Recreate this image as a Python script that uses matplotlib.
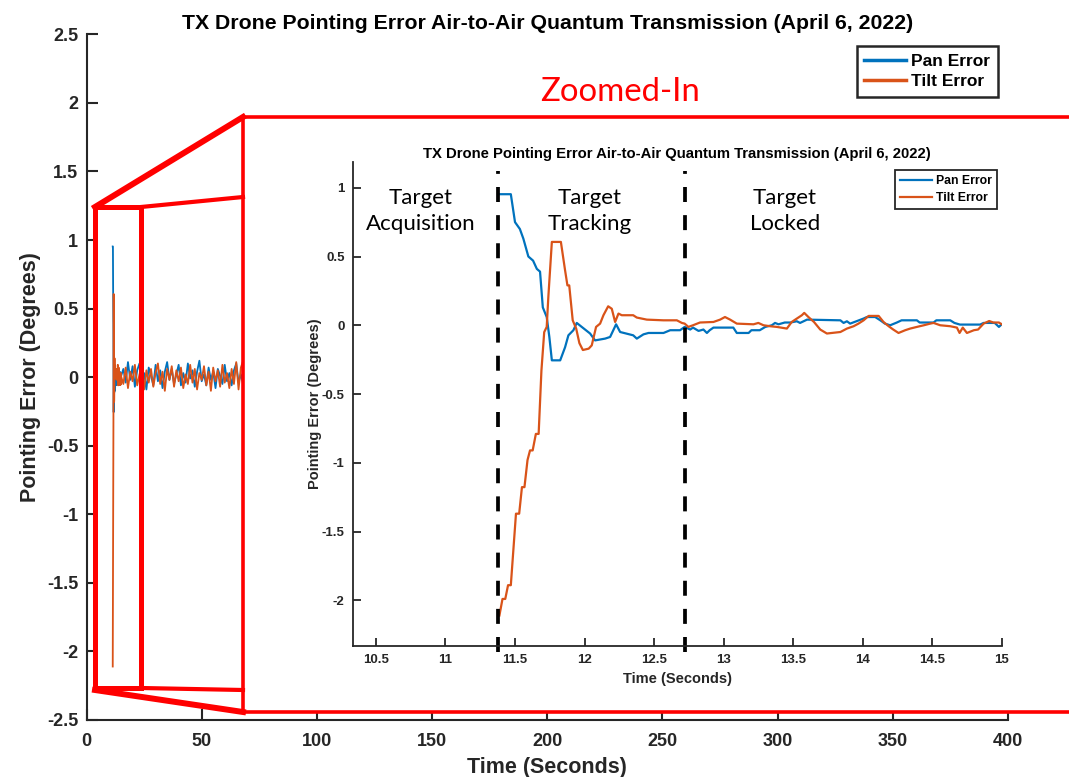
import numpy as np
import matplotlib.pyplot as plt
from matplotlib.lines import Line2D
from matplotlib.patches import Rectangle

# ---- data ----
# zoomed window (10.3 - 15 s)
pan_t = [11.38, 11.47, 11.50, 11.535, 11.56, 11.596, 11.63, 11.657, 11.68, 11.70,
         11.728, 11.747, 11.765, 11.825, 11.86, 11.884, 11.92, 11.944, 11.98, 12.04,
         12.076, 12.148, 12.184, 12.227, 12.256, 12.35, 12.376, 12.424, 12.46, 12.568,
         12.616, 12.687, 12.72, 12.76, 12.78, 12.82, 12.855, 12.88, 12.90, 12.927,
         13.07, 13.095, 13.18, 13.20, 13.26, 13.30, 13.347, 13.37, 13.395, 13.44,
         13.48, 13.527, 13.55, 13.60, 13.84, 13.863, 13.887, 13.91, 13.96, 14.007,
         14.03, 14.09, 14.127, 14.16, 14.198, 14.246, 14.28, 14.39, 14.41, 14.51,
         14.53, 14.63, 14.66, 14.70, 14.845, 14.87, 14.95, 14.98, 15.0]
pan_err = [0.953, 0.953, 0.75, 0.70, 0.63, 0.50, 0.47, 0.41, 0.39, 0.13,
           0.06, -0.085, -0.255, -0.255, -0.16, -0.073, -0.036, 0.017, -0.012, -0.06,
           -0.11, -0.097, -0.085, 0.007, -0.049, -0.073, -0.097, -0.066, -0.056, -0.056,
           -0.036, -0.036, -0.012, -0.031, -0.017, -0.041, -0.031, -0.056, -0.036, -0.017,
           -0.017, -0.056, -0.056, -0.036, -0.036, -0.012, 0.0, 0.017, 0.007, 0.02,
           0.02, 0.029, 0.017, 0.041, 0.036, 0.017, 0.029, 0.012, 0.031, 0.049,
           0.06, 0.06, 0.036, 0.012, 0.0, 0.02, 0.036, 0.036, 0.02, 0.02,
           0.036, 0.036, 0.017, 0.005, 0.005, 0.017, 0.017, -0.012, 0.007]

tilt_t = [11.388, 11.41, 11.43, 11.45, 11.47, 11.507, 11.53, 11.55, 11.568, 11.59,
          11.608, 11.627, 11.65, 11.67, 11.69, 11.71, 11.728, 11.74, 11.765, 11.83,
          11.86, 11.877, 11.89, 11.915, 11.94, 11.963, 11.988, 12.03, 12.052, 12.083,
          12.112, 12.136, 12.17, 12.196, 12.22, 12.244, 12.268, 12.35, 12.376, 12.448,
          12.568, 12.664, 12.70, 12.72, 12.747, 12.78, 12.83, 12.927, 12.975, 13.01,
          13.047, 13.095, 13.215, 13.25, 13.287, 13.335, 13.383, 13.455, 13.49, 13.527,
          13.563, 13.58, 13.61, 13.65, 13.695, 13.743, 13.84, 13.887, 13.935, 13.97,
          14.007, 14.043, 14.115, 14.15, 14.187, 14.22, 14.258, 14.306, 14.342, 14.39,
          14.44, 14.486, 14.51, 14.558, 14.63, 14.678, 14.697, 14.72, 14.75, 14.80,
          14.83, 14.87, 14.91, 14.94, 14.98, 15.0]
tilt_err = [-2.11, -1.99, -1.99, -1.89, -1.89, -1.37, -1.37, -1.177, -1.177, -0.98,
            -0.91, -0.91, -0.79, -0.79, -0.33, -0.05, -0.012, 0.21, 0.606, 0.606,
            0.40, 0.29, 0.29, 0.036, -0.024, -0.13, -0.18, -0.17, -0.146, -0.012,
            0.012, 0.073, 0.138, 0.12, 0.024, 0.085, 0.073, 0.073, 0.056, 0.041,
            0.036, 0.036, 0.017, 0.012, -0.012, 0.0, 0.02, 0.024, 0.041, 0.06,
            0.041, 0.012, 0.007, 0.017, 0.0, -0.007, -0.012, -0.024, 0.024, 0.049,
            0.073, 0.09, 0.06, 0.024, -0.031, -0.06, -0.049, -0.024, -0.007, 0.012,
            0.036, 0.068, 0.068, 0.024, -0.007, -0.031, -0.056, -0.036, -0.024, -0.012,
            0.0, 0.012, 0.017, 0.0, -0.007, -0.017, -0.056, -0.017, -0.056, -0.036,
            -0.031, 0.012, 0.031, 0.02, 0.02, 0.007]

# rest of the flight, 1 s steps from 16 s (mostly hidden behind the zoom box)
rest_start = 16
rest_pan = [0.06, -0.04, 0.11, -0.02, 0.08, -0.07, 0.05, 0.10, -0.05, 0.03,
            -0.09, 0.07, 0.01, -0.06, 0.09, -0.03, 0.05, -0.08, 0.04, 0.11,
            -0.02, 0.06, -0.05, 0.02, 0.09, -0.06, 0.03, -0.04, 0.10, -0.01,
            0.05, -0.07, 0.04, 0.12, -0.03, 0.02, -0.06, 0.07, -0.02, 0.04,
            -0.08, 0.06, 0.01, -0.05, 0.09, -0.03, 0.03, -0.06, 0.05, 0.10,
            -0.04, 0.02, -0.05]
rest_tilt = [-0.05, 0.07, -0.08, 0.04, -0.03, 0.09, -0.06, 0.02, 0.08, -0.09,
             0.05, -0.04, 0.06, -0.07, 0.03, 0.10, -0.05, 0.04, -0.10, 0.06,
             -0.02, 0.08, -0.07, 0.05, -0.03, 0.07, -0.08, 0.02, -0.05, 0.09,
             -0.04, 0.06, -0.09, 0.03, -0.02, 0.08, -0.06, 0.04, -0.10, 0.07,
             -0.03, 0.05, -0.07, 0.09, -0.04, 0.03, -0.08, 0.06, -0.05, 0.11,
             -0.09, 0.07, 0.12]

phase_bounds = [11.38, 12.72]
phase_names = ["Target\nAcquisition", "Target\nTracking", "Target\nLocked"]
phase_x = [10.82, 12.04, 13.44]

main_xticks = [0, 50, 100, 150, 200, 250, 300, 350, 400]
main_yticks = [-2.5, -2, -1.5, -1, -0.5, 0, 0.5, 1, 1.5, 2, 2.5]
zoom_xticks = [10.5, 11, 11.5, 12, 12.5, 13, 13.5, 14, 14.5, 15]
zoom_yticks = [-2, -1.5, -1, -0.5, 0, 0.5, 1]

TITLE = "TX Drone Pointing Error Air-to-Air Quantum Transmission (April 6, 2022)"
BLUE = "#0072BD"
ORANGE = "#D95319"
DARK = "#262626"
RED = "#FF0000"

W, H = 1069, 777


def fx(px):
    return px / W


def fy(py):
    return 1 - py / H


def lbl(v):
    return "%g" % v


plt.rcParams['font.family'] = ['Liberation Sans', 'DejaVu Sans']
plt.rcParams['font.weight'] = 'bold'

fig = plt.figure(figsize=(W / 100, H / 100), dpi=100)

# ---- main axes ----
rest_t = np.arange(rest_start, rest_start + len(rest_pan))
ax = fig.add_axes([fx(86.5), fy(720), fx(1008) - fx(86.5), fy(34.3) - fy(720)], zorder=0)
ax.plot(list(pan_t) + list(rest_t), pan_err + rest_pan, color=BLUE, lw=1.3, label="Pan Error")
ax.plot(list(tilt_t) + list(rest_t), tilt_err + rest_tilt, color=ORANGE, lw=1.3, label="Tilt Error")
ax.set_xlim(0, 400)
ax.set_ylim(-2.5, 2.5)
ax.set_xticks(main_xticks, [lbl(v) for v in main_xticks])
ax.set_yticks(main_yticks, [lbl(v) for v in main_yticks])
for s in ["top", "right"]:
    ax.spines[s].set_visible(False)
for s in ["left", "bottom"]:
    ax.spines[s].set_color(DARK)
    ax.spines[s].set_linewidth(1.5)
ax.tick_params(direction="in", length=8, width=1.5, colors=DARK, labelsize=13, pad=6)
ax.tick_params(axis="x", pad=9.5)
ax.set_title(TITLE, fontsize=15.3, fontweight="bold", pad=4)
ax.set_xlabel("Time (Seconds)", fontsize=15.5, fontweight="bold", color=DARK, labelpad=5)
ax.set_ylabel("Pointing Error (Degrees)", fontsize=15.5, fontweight="bold", color=DARK)
leg = ax.legend(loc="upper right", bbox_to_anchor=(fx(998), fy(46)), bbox_transform=fig.transFigure,
                prop=dict(weight="bold", size=12.5), fancybox=False, edgecolor=DARK,
                handlelength=2.4, handletextpad=0.3, borderpad=0.45, labelspacing=0.28,
                borderaxespad=0, framealpha=1)
leg.get_frame().set_linewidth(1.8)
for h in leg.get_lines():
    h.set_linewidth(2.5)

# ---- white zoom panel ----
fig.add_artist(Rectangle((fx(243), fy(712)), fx(1080) - fx(243), fy(117) - fy(712),
                         transform=fig.transFigure, facecolor="white", edgecolor="none", zorder=1))

# ---- zoomed axes ----
axz = fig.add_axes([fx(353), fy(645.7), fx(1001.7) - fx(353), fy(162.3) - fy(645.7)], zorder=2)
axz.plot(pan_t, pan_err, color=BLUE, lw=1.6, label="Pan Error")
axz.plot(tilt_t, tilt_err, color=ORANGE, lw=1.6, label="Tilt Error")
axz.set_xlim(10.335, 15)
axz.set_ylim(-2.33, 1.185)
axz.set_xticks(zoom_xticks, [lbl(v) for v in zoom_xticks])
axz.set_yticks(zoom_yticks, [lbl(v) for v in zoom_yticks])
for s in ["top", "right"]:
    axz.spines[s].set_visible(False)
for s in ["left", "bottom"]:
    axz.spines[s].set_color(DARK)
    axz.spines[s].set_linewidth(1.3)
axz.tick_params(direction="in", length=6, width=1.3, colors=DARK, labelsize=9.5, pad=6)
axz.set_title(TITLE, fontsize=10.7, fontweight="bold", pad=3)
axz.set_xlabel("Time (Seconds)", fontsize=10.5, fontweight="bold", color=DARK)
axz.set_ylabel("Pointing Error (Degrees)", fontsize=10.5, fontweight="bold", color=DARK, labelpad=0)
for xb in phase_bounds:
    axz.axvline(xb, ymin=-0.013, ymax=0.982, color="black", lw=2.7, ls=(0, (4, 3.5)), clip_on=False)
for name, xp in zip(phase_names, phase_x):
    axz.text(xp, 0.83, name, ha="center", va="center", fontsize=16, fontweight="normal",
             family="Lato", linespacing=1.35)
legz = axz.legend(loc="upper right", bbox_to_anchor=(fx(997), fy(170)), bbox_transform=fig.transFigure,
                  prop=dict(weight="bold", size=8.8), fancybox=False, edgecolor=DARK,
                  handlelength=2.6, handletextpad=0.3, borderpad=0.45, labelspacing=0.35,
                  borderaxespad=0, framealpha=1)
legz.get_frame().set_linewidth(1.3)

# ---- red zoom outline ----
def red_line(xs, ys, lw):
    fig.add_artist(Line2D([fx(x) for x in xs], [fy(y) for y in ys], transform=fig.transFigure,
                          color=RED, lw=lw, zorder=3, solid_joinstyle="miter", solid_capstyle="projecting"))


red_line([95, 141, 141, 95, 95], [207, 207, 688, 688, 207], 3.6)
red_line([141, 243], [207, 197], 3.0)
red_line([141, 243], [688, 690], 3.0)
red_line([95, 243], [207, 117], 4.3)
red_line([95, 243], [690, 712], 4.3)
red_line([1075, 243, 243, 1075], [117, 117, 712, 712], 2.6)
fig.text(fx(620), fy(92), "Zoomed-In", color=RED, fontsize=23.7, fontweight="normal", family="Lato",
         ha="center", va="center")

fig.savefig("out.png", dpi=100)
